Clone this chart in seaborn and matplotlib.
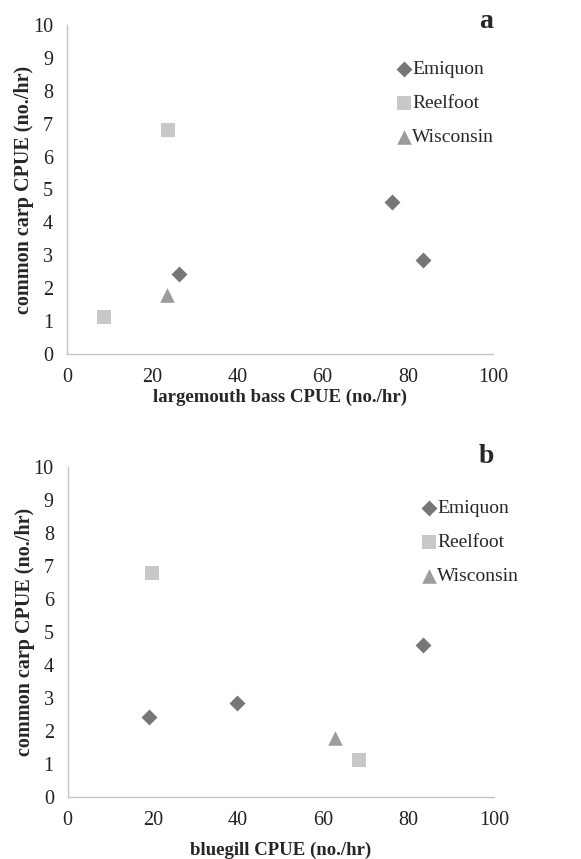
import matplotlib
matplotlib.use("Agg")
import matplotlib.pyplot as plt
import seaborn as sns
import pandas as pd

sites = ["Emiquon", "Emiquon", "Emiquon", "Reelfoot", "Reelfoot", "Wisconsin"]
carp_cpue = [2.42, 4.63, 2.86, 6.8, 1.12, 1.8]
bass_cpue = [26.4, 76.2, 83.5, 23.6, 8.7, 23.5]
bluegill_cpue = [19.1, 83.4, 39.7, 19.9, 68.4, 62.7]

site_order = ["Emiquon", "Reelfoot", "Wisconsin"]
palette = {"Emiquon": "#767676", "Reelfoot": "#c8c8c8", "Wisconsin": "#9c9c9c"}
markers = {"Emiquon": "D", "Reelfoot": "s", "Wisconsin": "^"}
sizes_pts = {"Emiquon": 66, "Reelfoot": 92, "Wisconsin": 110}

df = pd.DataFrame({"site": sites, "carp": carp_cpue,
                   "bass": bass_cpue, "bluegill": bluegill_cpue})

sns.set_style("white")
plt.rcParams["font.family"] = ["Liberation Serif", "DejaVu Serif"]

fig = plt.figure(figsize=(5.81, 8.59), dpi=100)
ax_a = fig.add_axes([0.1153, 0.5879, 0.7332, 0.3830])
ax_b = fig.add_axes([0.1165, 0.0718, 0.7335, 0.3842])

panels = [(ax_a, "bass", "largemouth bass CPUE (no./hr)", "a", (0.774, 0.762), 1.012, 1.5),
          (ax_b, "bluegill", "bluegill CPUE (no./hr)", "b", (0.830, 0.773), 1.033, 8.5)]

for ax, xcol, xlabel, letter, legpos, letter_y, xpad in panels:
    for s in site_order:
        sub = df[df["site"] == s]
        sns.scatterplot(data=sub, x=xcol, y="carp", ax=ax, color=palette[s],
                        marker=markers[s], s=sizes_pts[s], linewidth=0,
                        label=s, zorder=3)
    ax.set_xlim(0, 100)
    ax.set_ylim(0, 10)
    ax.set_xticks(range(0, 101, 20))
    ax.set_yticks(range(0, 11, 1))
    ax.tick_params(axis="x", length=0, labelsize=14.5, colors="#222222", pad=10)
    ax.tick_params(axis="y", length=0, labelsize=14.5, colors="#222222", pad=10)
    for side in ["top", "right"]:
        ax.spines[side].set_visible(False)
    for side in ["left", "bottom"]:
        ax.spines[side].set_color("#c4c4c4")
        ax.spines[side].set_linewidth(1.0)
    ax.set_xlabel(xlabel, fontsize=13.5, fontweight="bold", labelpad=xpad)
    ax.set_ylabel("common carp CPUE (no./hr)", fontsize=14.5, fontweight="bold", labelpad=-1)
    ax.legend(loc="center left", bbox_to_anchor=legpos,
              bbox_transform=ax.transAxes, frameon=False, fontsize=14,
              handletextpad=0.0, handlelength=0.8, labelspacing=0.86,
              borderpad=0, borderaxespad=0)
    ax.text(1.0, letter_y, letter, transform=ax.transAxes, fontsize=20,
            fontweight="bold", ha="right", va="center")

fig.savefig("out.png", dpi=100)
